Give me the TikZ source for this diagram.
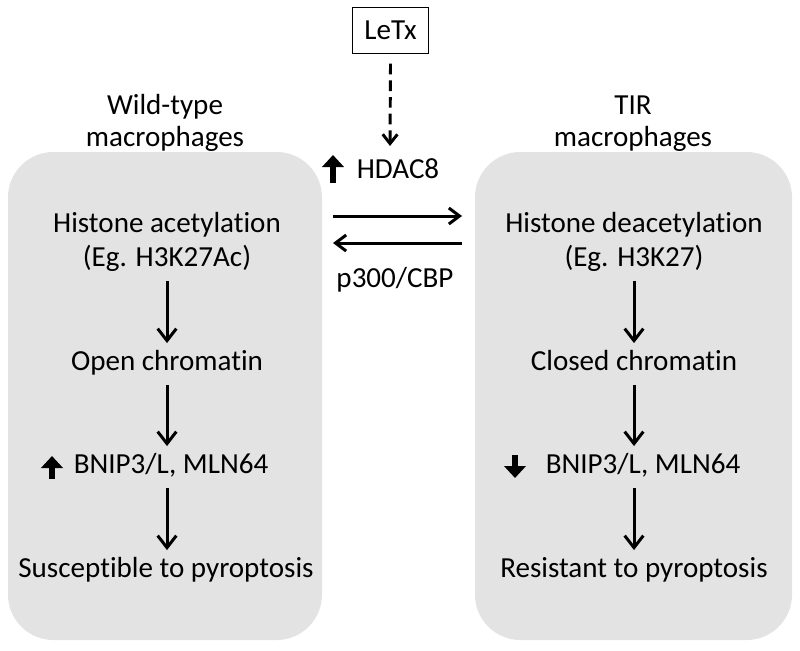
\documentclass[tikz,border=0pt]{standalone}
\usepackage{fontspec}
\setmainfont{Carlito}[Ligatures=NoCommon]
\usetikzlibrary{arrows.meta}
\definecolor{boxgray}{HTML}{E3E3E3}
\tikzset{
  txt/.style={anchor=base, inner sep=0pt, text height=15pt, text depth=5pt, font=\fontsize{21.8}{25}\selectfont},
  panel/.style={fill=boxgray, draw=none, rounded corners=34pt},
  flow/.style={line width=2.25pt, -{Straight Barb[length=9pt,width=14pt]}, shorten <=6pt, shorten >=5pt},
  hflow/.style={line width=2.25pt, -{Straight Barb[length=8pt,width=12pt]}},
  dflow/.style={line width=2.2pt, dash pattern=on 8pt off 4.5pt, -{Straight Barb[length=7pt,width=11pt]}},
  bigarr/.style={line width=4.5pt, -{Triangle[length=9pt,width=16pt]}}
}
\begin{document}
\begin{tikzpicture}[x=0.75pt,y=-0.75pt]
\useasboundingbox (0,0) rectangle (800,650);
% panels
\fill[panel] (8,152) rectangle (322,640);
\fill[panel] (475,152) rectangle (792,640);
% headings
\node[txt] (wt1) at (165,114) {Wild-type};
\node[txt] (wt2) at (165,146) {macrophages};
\node[txt] (tir1) at (633,114) {TIR};
\node[txt] (tir2) at (633,146) {macrophages};
% LeTx
\node[draw, line width=0.8pt, minimum width=57pt, minimum height=35pt, inner sep=0pt,
      font=\fontsize{21.8}{25}\selectfont] (letx) at (390.5,30.5) {LeTx};
\coordinate (letxend) at (390,146);
\draw[dflow] (letx.south) ++(0,-7pt) coordinate (letxstart) -- (letxend);
% HDAC8
\node[txt] (hdac) at (398,178) {HDAC8};
\coordinate (hua) at (333,183);
\coordinate (hub) at (333,155);
\draw[bigarr] (hua) -- (hub);
% horizontal arrows
\coordinate (ra1) at (333,216);
\coordinate (ra2) at (462,216);
\coordinate (la1) at (462,243);
\coordinate (la2) at (333,243);
\draw[hflow] (ra1) -- (ra2);
\draw[hflow] (la1) -- (la2);
\node[txt] (p300) at (395,287) {p300/CBP};
% left column
\node[txt] (l1) at (167,232) {Histone acetylation};
\node[txt] (l2) at (167,266) {(Eg. H3K27Ac)};
\node[txt] (l3) at (167,370) {Open chromatin};
\node[txt] (l4) at (171,473) {BNIP3/L, MLN64};
\node[txt] (l5) at (166,577) {Susceptible to pyroptosis};
\draw[flow] (l2.south -| l3.north) -- (l3.north);
\draw[flow] (l3.south) -- (l3.south |- l4.north);
\draw[flow] (l4.south -| l3.north) -- (l3.north |- l5.north);
\coordinate (lua) at (52,479);
\coordinate (lub) at (52,456);
\draw[bigarr] (lua) -- (lub);
% right column
\node[txt] (r1) at (634,232) {Histone deacetylation};
\node[txt] (r2) at (634,266) {(Eg. H3K27)};
\node[txt] (r3) at (634,370) {Closed chromatin};
\node[txt] (r4) at (643,473) {BNIP3/L, MLN64};
\node[txt] (r5) at (634,577) {Resistant to pyroptosis};
\draw[flow] (r2.south -| r3.north) -- (r3.north);
\draw[flow] (r3.south) -- (r3.south |- r4.north);
\draw[flow] (r4.south -| r5.north) -- (r5.north);
\coordinate (rda) at (515,455);
\coordinate (rdb) at (515,478);
\draw[bigarr] (rda) -- (rdb);
\end{tikzpicture}
\end{document}
